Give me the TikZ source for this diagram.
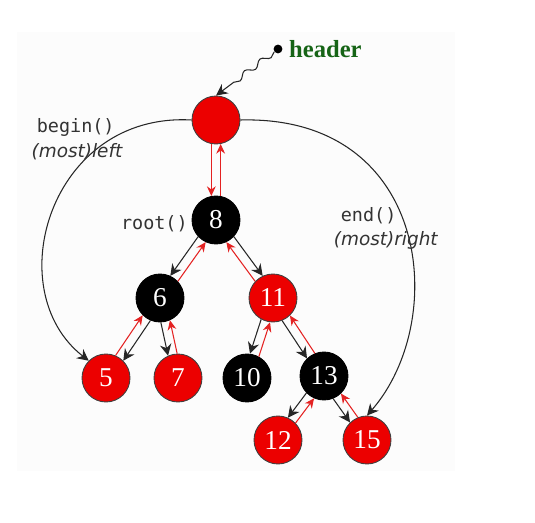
\documentclass[tikz,border=0pt]{standalone}
\usepackage{fontspec}
\setmainfont{Liberation Serif}
\setmonofont{DejaVu Sans Mono}
\newfontfamily\obl{DejaVu Sans}
\usetikzlibrary{arrows.meta,positioning,decorations.pathmorphing}
\definecolor{nodered}{RGB}{236,0,0}
\definecolor{ptrred}{RGB}{228,34,34}
\definecolor{hdgreen}{RGB}{22,100,22}

\begin{document}
\begin{tikzpicture}
        [x=0.02cm,y=-0.02cm,
         rb/.style={circle,draw=black!75,line width=0.5pt,fill=nodered,text=white,
                    minimum size=0.96cm,inner sep=0pt,font=\fontsize{15.5}{16}\selectfont},
         bk/.style={rb,fill=black,draw=black},
         tochild/.style={-{Stealth[length=6.5pt,width=6.5pt]},black!85,line width=0.6pt},
         toparent/.style={-{Stealth[length=5.5pt,width=5pt]},ptrred,line width=0.6pt},
         ptr/.style={-{Stealth[length=6.5pt,width=6.5pt]},black!85,line width=0.6pt},
         code/.style={font=\ttfamily\fontsize{10.5}{12}\selectfont,text=black!80,inner sep=2pt},
         note/.style={font=\obl\itshape\fontsize{10.5}{12}\selectfont,text=black!80,inner sep=2pt}]
        \useasboundingbox (0,0) rectangle (535,523);
        \fill[black!1] (17,32) rectangle (455,471);

        % the tree
        \node[rb] (hd) at (216,120) {};
        \node[bk] (n8) at (216,220) {8};
        \node[bk] (n6) at (160,298) {6};
        \node[rb] (n11) at (273,298) {11};
        \node[rb] (n5) at (106,378) {5};
        \node[rb] (n7) at (178,378) {7};
        \node[bk] (n10) at (247,378) {10};
        \node[bk] (n13) at (324,376) {13};
        \node[rb] (n12) at (278,440) {12};
        \node[rb] (n15) at (367,440) {15};

        % header pointer
        \node[circle,fill=black,inner sep=0pt,minimum size=5pt] (hdp) at (278,49) {};
        \node[right=2.5pt of hdp,inner sep=1pt,text=hdgreen,font=\bfseries\fontsize{14}{15}\selectfont] (hdl) {header};
        \draw[ptr,decorate,decoration={snake,amplitude=1.6pt,segment length=11pt,post length=9pt}]
              (hdp) -- (hd.north);

        % header <-> root
        \draw[toparent] (hd.259) -- (n8.101);
        \draw[toparent] (n8.79) -- (hd.281);

        % child links (black) and parent links (red)
        \draw[tochild] (n8.223) -- (n6.65);
        \draw[toparent] (n6.43) -- (n8.245);
        \draw[tochild] (n8.317) -- (n11.115);
        \draw[toparent] (n11.137) -- (n8.295);
        \draw[tochild] (n6.247) -- (n5.45);
        \draw[toparent] (n5.67) -- (n6.225);
        \draw[tochild] (n6.272) -- (n7.114);
        \draw[toparent] (n7.92) -- (n6.294);
        \draw[tochild] (n11.241) -- (n10.83);
        \draw[toparent] (n10.61) -- (n11.263);
        \draw[tochild] (n11.292) -- (n13.134);
        \draw[toparent] (n13.112) -- (n11.314);
        \draw[tochild] (n13.224) -- (n12.66);
        \draw[toparent] (n12.44) -- (n13.246);
        \draw[tochild] (n13.292) -- (n15.134);
        \draw[toparent] (n15.112) -- (n13.314);

        % begin / end
        \draw[ptr] (hd.west) .. controls (50,112) and (-2,290) .. (n5.135);
        \draw[ptr] (hd.east) .. controls (430,115) and (450,320) .. (n15.north);

        \node[code,anchor=west] (bg) at (33,127) {begin()};
        \node[note,anchor=north west] (bgn) at ([xshift=-3pt]bg.south west) {(most)left};
        \node[code,left=0pt of n8,yshift=-2pt] (rt) {root()};
        \node[code,anchor=west] (ed) at (337,216) {end()};
        \node[note,anchor=north west] (edn) at ([xshift=-4pt]ed.south west) {(most)right};
\end{tikzpicture}
\end{document}
